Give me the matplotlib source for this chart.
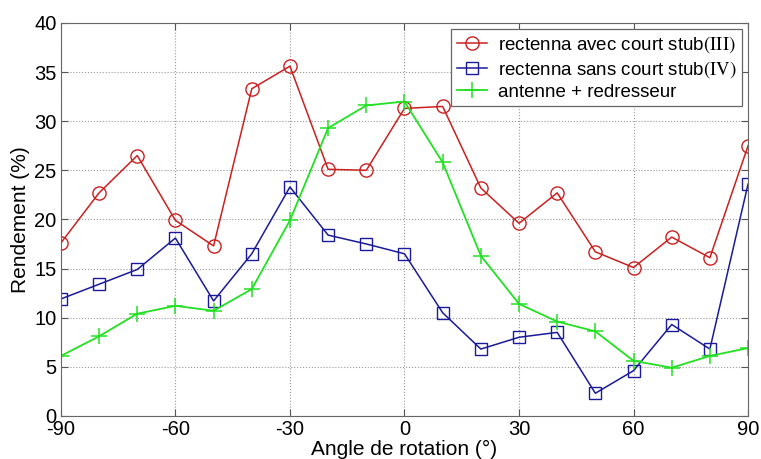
import numpy as np
import matplotlib; matplotlib.use("Agg")
import matplotlib.pyplot as plt

plt.rcParams["font.family"] = ["Liberation Sans", "DejaVu Sans"]
plt.rcParams["axes.unicode_minus"] = False
plt.rcParams["mathtext.fontset"] = "stix"

# ── Data ──────────────────────────────────────────────────────────────────────
angles = [-90, -80, -70, -60, -50, -40, -30, -20, -10, 0,
          10, 20, 30, 40, 50, 60, 70, 80, 90]
avec_stub = [17.6, 22.7, 26.5, 19.9, 17.3, 33.3, 35.6, 25.1, 25.0, 31.3,
             31.5, 23.2, 19.6, 22.7, 16.7, 15.1, 18.2, 16.1, 27.5]
sans_stub = [11.9, 13.4, 14.9, 18.1, 11.7, 16.5, 23.3, 18.4, 17.5, 16.5,
             10.5, 6.8, 8.0, 8.5, 2.3, 4.6, 9.3, 6.8, 23.6]
antenne_redr = [6.1, 8.1, 10.4, 11.2, 10.7, 12.9, 19.9, 29.3, 31.6, 32.0,
                25.8, 16.3, 11.4, 9.6, 8.6, 5.6, 4.9, 6.1, 6.9]
labels = [r"rectenna avec court stub$\mathrm{(III)}$",
          r"rectenna sans court stub$\mathrm{(IV)}$",
          "antenne + redresseur"]

fig = plt.figure(figsize=(7.61, 4.59), dpi=100)
ax = fig.add_axes([0.080, 0.094, 0.903, 0.856])

ax.plot(angles, avec_stub, color="#cc2020", lw=1.1, marker="o", ms=9.5,
        mfc="none", mec="#cc2020", mew=1.0, label=labels[0])
ax.plot(angles, sans_stub, color="#1a1a9a", lw=1.1, marker="s", ms=8.5,
        mfc="none", mec="#1a1a9a", mew=1.0, label=labels[1])
ax.plot(angles, antenne_redr, color="#22e022", lw=1.3, marker="+", ms=11,
        mew=1.1, label=labels[2])

ax.set_xlim(-90, 90)
ax.set_ylim(0, 40)
ax.set_xticks(np.arange(-90, 91, 30))
ax.set_yticks(np.arange(0, 41, 5))
ax.tick_params(direction="in", labelsize=14.5, top=True, right=True,
               color="#555555", length=5, pad=3)
ax.grid(True, linestyle=":", color="#999999", lw=0.8)
for s in ax.spines.values():
    s.set_color("#666666")

ax.set_xlabel("Angle de rotation (°)", fontsize=15, labelpad=1)
ax.set_ylabel("Rendement (%)", fontsize=15, labelpad=3)

leg = ax.legend(loc="upper right", fontsize=13.5, fancybox=False,
                framealpha=1, edgecolor="#666666", borderaxespad=0.3,
                handlelength=1.6, handletextpad=0.6, labelspacing=0.2,
                borderpad=0.3)
leg.get_frame().set_linewidth(0.9)

fig.savefig("out.png", dpi=100)
